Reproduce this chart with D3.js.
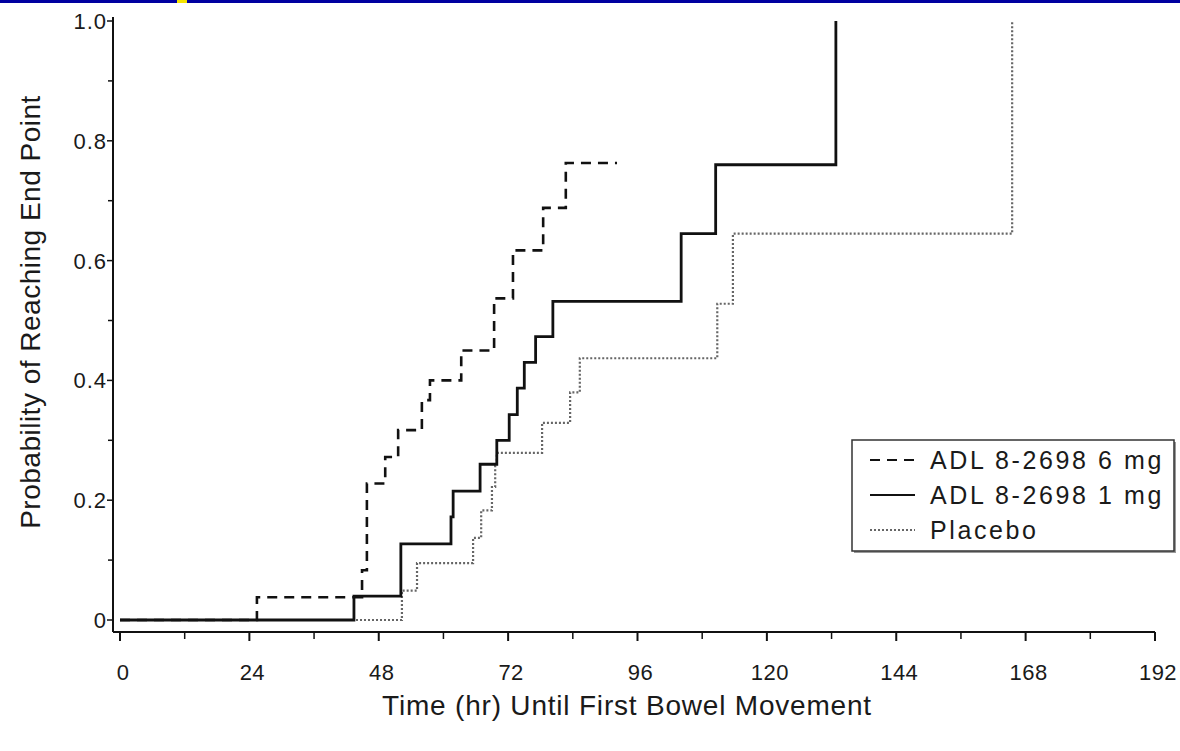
<!DOCTYPE html>
<html>
<head>
<meta charset="utf-8">
<script src="https://cdn.jsdelivr.net/npm/d3@7/dist/d3.min.js"></script>
<style>
  body { margin: 0; background: #fff; }
  text { font-family: "Liberation Sans", Arial, sans-serif; fill: #1a1a1a; }
</style>
</head>
<body>
<svg id="chart" width="1180" height="751"></svg>
<script>
// tick labels
var xTicks = [0, 24, 48, 72, 96, 120, 144, 168, 192];
var xMinor = [12, 36, 60, 84, 108, 132, 156, 180];
var yTicks = [0, 0.2, 0.4, 0.6, 0.8, 1.0];
var yMinor = [0.1, 0.3, 0.5, 0.7, 0.9];

var seriesNames = ["ADL 8-2698 6 mg", "ADL 8-2698 1 mg", "Placebo"];

// ADL 8-2698 6 mg (hours, cumulative probability)
var t6mg = [0, 25.4, 44.9, 45.8, 49.2, 51.6, 56.0, 57.5, 63.3, 69.4, 72.9, 78.5, 82.7, 92.2];
var p6mg = [0, 0.038, 0.083, 0.228, 0.272, 0.317, 0.367, 0.40, 0.45, 0.537, 0.617, 0.688, 0.763, 0.763];

// ADL 8-2698 1 mg
var t1mg = [0, 43.4, 52.1, 61.4, 61.8, 66.8, 69.9, 72.2, 73.7, 75.0, 77.1, 80.3, 104.1, 110.5, 132.8];
var p1mg = [0, 0.04, 0.127, 0.172, 0.215, 0.26, 0.30, 0.343, 0.387, 0.43, 0.473, 0.532, 0.645, 0.76, 1.0];

// Placebo
var tPlac = [0, 52.3, 55.1, 65.5, 67.0, 69.0, 69.6, 69.9, 78.3, 83.5, 85.3, 110.8, 113.7, 165.5];
var pPlac = [0, 0.049, 0.095, 0.137, 0.183, 0.222, 0.258, 0.279, 0.329, 0.38, 0.437, 0.528, 0.645, 1.0];

var svg = d3.select("#chart");

// header strip
svg.append("rect").attr("x", 0).attr("y", 0).attr("width", 1180).attr("height", 3).attr("fill", "#0000a0");
svg.append("rect").attr("x", 177).attr("y", 0).attr("width", 10).attr("height", 3).attr("fill", "#f5e400");

var x = d3.scaleLinear().domain([0, 192]).range([120, 1155]);
var y = d3.scaleLinear().domain([0, 1]).range([620, 21]);

var axisY = 632, axisX = 113;

// x axis
var gx = svg.append("g").attr("transform", "translate(0," + axisY + ")");
gx.append("line").attr("x1", axisX).attr("x2", x(192)).attr("y1", 0).attr("y2", 0)
  .attr("stroke", "#111").attr("stroke-width", 2);
gx.selectAll(".maj").data(xTicks).enter().append("line")
  .attr("x1", function(d) { return x(d); }).attr("x2", function(d) { return x(d); })
  .attr("y1", 0).attr("y2", 9).attr("stroke", "#111").attr("stroke-width", 2);
gx.selectAll(".min").data(xMinor).enter().append("line")
  .attr("x1", function(d) { return x(d); }).attr("x2", function(d) { return x(d); })
  .attr("y1", 0).attr("y2", 7).attr("stroke", "#111").attr("stroke-width", 1.5);
gx.selectAll(".lab").data(xTicks).enter().append("text")
  .attr("x", function(d) { return x(d) + 3; }).attr("y", 48)
  .attr("text-anchor", "middle").attr("font-size", 22).attr("letter-spacing", 0.5)
  .text(function(d) { return d; });

// y axis
var gy = svg.append("g").attr("transform", "translate(" + axisX + ",0)");
gy.append("line").attr("x1", 0).attr("x2", 0).attr("y1", 17).attr("y2", axisY)
  .attr("stroke", "#111").attr("stroke-width", 2);
gy.selectAll(".maj").data(yTicks).enter().append("line")
  .attr("x1", -6).attr("x2", 0)
  .attr("y1", function(d) { return y(d); }).attr("y2", function(d) { return y(d); })
  .attr("stroke", "#111").attr("stroke-width", 1.5);
gy.selectAll(".min").data(yMinor).enter().append("line")
  .attr("x1", -5).attr("x2", 0)
  .attr("y1", function(d) { return y(d); }).attr("y2", function(d) { return y(d); })
  .attr("stroke", "#111").attr("stroke-width", 1.5);
gy.selectAll(".lab").data(yTicks).enter().append("text")
  .attr("x", -6).attr("y", function(d) { return y(d) + 8; })
  .attr("text-anchor", "end").attr("font-size", 22).attr("letter-spacing", 1)
  .text(function(d) { return d === 0 ? "0" : d3.format(".1f")(d); });

// axis titles
svg.append("text").attr("x", 627).attr("y", 715).attr("text-anchor", "middle")
  .attr("font-size", 28).attr("letter-spacing", 0.8)
  .text("Time (hr) Until First Bowel Movement");
svg.append("text").attr("transform", "translate(40,312) rotate(-90)")
  .attr("text-anchor", "middle").attr("font-size", 28).attr("letter-spacing", 0.5)
  .text("Probability of Reaching End Point");

// step curves
var line = d3.line()
  .x(function(d) { return x(d[0]); })
  .y(function(d) { return y(d[1]); })
  .curve(d3.curveStepAfter);

function pts(ts, ps) { return ts.map(function(t, i) { return [t, ps[i]]; }); }

var styles = [
  { dash: "10,7", color: "#111", width: 2.6 },
  { dash: null, color: "#111", width: 2.8 },
  { dash: "2,2", color: "#666", width: 2.2 }
];
var series = [pts(tPlac, pPlac), pts(t6mg, p6mg), pts(t1mg, p1mg)];
var order = [2, 0, 1];

series.forEach(function(s, i) {
  var st = styles[order[i]];
  svg.append("path").attr("d", line(s)).attr("fill", "none")
    .attr("stroke", st.color).attr("stroke-width", st.width)
    .attr("stroke-dasharray", st.dash);
});

// legend
var lg = svg.append("g").attr("transform", "translate(852,440)");
lg.append("rect").attr("x", 2).attr("y", 2).attr("width", 322).attr("height", 111)
  .attr("fill", "#999");
lg.append("rect").attr("x", 0).attr("y", 0).attr("width", 322).attr("height", 111)
  .attr("fill", "#fff").attr("stroke", "#333").attr("stroke-width", 1.5);
seriesNames.forEach(function(name, i) {
  var ly = 20 + i * 35;
  lg.append("line").attr("x1", 18).attr("x2", 63).attr("y1", ly).attr("y2", ly)
    .attr("stroke", styles[i].color).attr("stroke-width", i === 2 ? 2 : 2.2)
    .attr("stroke-dasharray", styles[i].dash);
  lg.append("text").attr("x", 78).attr("y", ly + 9).attr("font-size", 25)
    .attr("letter-spacing", 2.6).text(name);
});
</script>
</body>
</html>
